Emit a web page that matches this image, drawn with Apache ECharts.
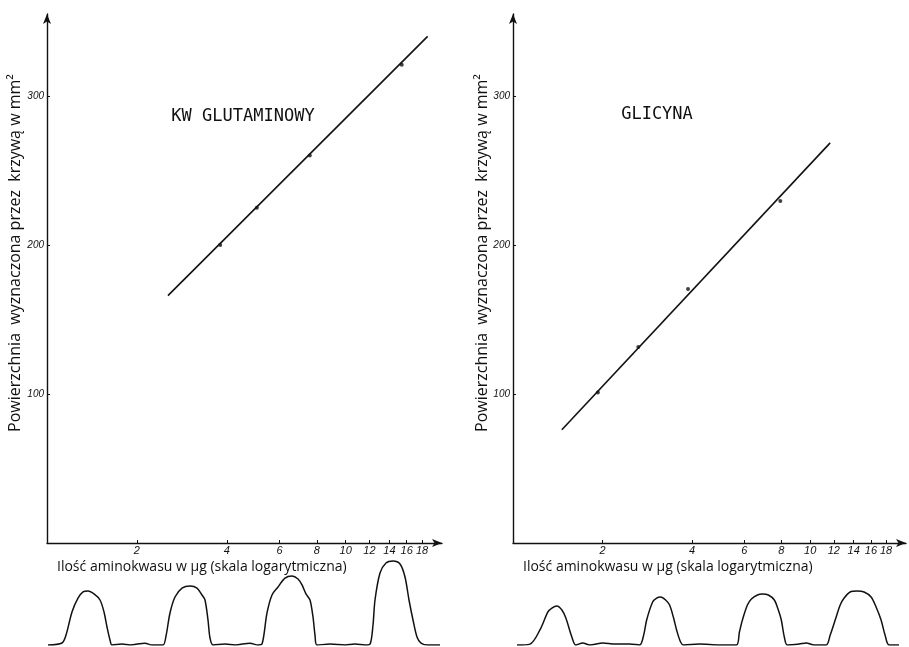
<!DOCTYPE html>
<html>
<head>
<meta charset="utf-8">
<script src="https://cdn.jsdelivr.net/npm/echarts@6/dist/echarts.min.js"></script>
<style>
  html, body { margin: 0; padding: 0; background: #fff; }
  #chart { width: 909px; height: 647px; }
</style>
</head>
<body>
<div id="chart"></div>
<script>
// tick labels
const xTicks = [2, 4, 6, 8, 10, 12, 14, 16, 18]
const yTicks = [100, 200, 300]

// KW GLUTAMINOWY: fitted line ends and measured points (µg, mm²)
const glutLine = [[2.54, 166], [18.8, 340]]
const glutPoints = [[3.8, 200], [5.04, 225], [7.58, 260], [15.4, 321]]

// GLICYNA
const glyLine = [[1.46, 76], [11.67, 268.5]]
const glyPoints = [[1.93, 101], [2.64, 131.5], [3.88, 170.5], [7.93, 229.5]]

// densitometer traces under each plot (position along strip, intensity)
const glutTrace = [
  [0.75, 0], [4.25, 2.2], [5.25, 11], [6.75, 36.7], [8.25, 52], [9.5, 59], [10.75, 60],
  [12.25, 56.7], [13.75, 50], [14.75, 36.7], [15.5, 20], [16.25, 5.6], [16.75, 0],
  [19.25, 1], [21.25, 0], [25, 2], [26.75, 0],
  [29.5, 0], [30.25, 10], [31.25, 35.6], [32.5, 53.3], [34.25, 63.3], [36.25, 65.6],
  [38, 63.3], [39.25, 55.6], [40, 50], [40.75, 27.8], [41.25, 7.8], [42, 0],
  [45, 1], [47.5, 0], [51.25, 2], [53.25, 0],
  [54.25, 1], [55.5, 35.6], [56.75, 55.6], [58.25, 64.4], [60, 74.4], [61.75, 76.7],
  [63.25, 73.3], [64.25, 66.7], [65.25, 56.7], [66.25, 50], [67, 31.1], [67.5, 11], [68, 0],
  [71.25, 1], [75, 0], [77.5, 1], [80, 0],
  [81.25, 1], [82, 22.2], [82.5, 50], [83.75, 80], [85.25, 91.1], [87, 93.3],
  [88.75, 90], [90, 75.6], [91, 50], [92, 27.8], [93, 8.9], [94, 2.2], [95.75, 0], [98.75, 0]
]
const glyTrace = [
  [1.75, 0], [5, 1], [7.5, 16.7], [9.5, 36.7], [10.5, 41.1], [11.75, 43.3], [13, 38.9],
  [14, 30], [15.5, 8.9], [16.5, 0], [18.25, 2.2], [20, 0], [23.25, 2.2], [26.25, 1], [30, 1],
  [32.5, 0], [33.5, 11], [34.25, 27.8], [35.75, 47.8], [36.75, 52.2], [37.75, 53.3],
  [39, 50], [40, 44.4], [41, 30], [41.75, 16.7], [42.75, 3.3], [43.5, 0],
  [47.5, 1], [52.5, 0],
  [56.75, 0], [57.5, 14.4], [58.25, 27.8], [59.5, 44.4], [60.5, 51.1], [62, 55.6],
  [63.25, 56.7], [64.75, 55.6], [66.25, 50], [67.25, 38.9], [68, 27.8], [68.75, 8.9], [69.5, 0],
  [72.5, 1], [74.25, 2.2], [76.25, 0],
  [79.25, 0], [80.25, 11], [81.75, 31.1], [82.75, 44.4], [83.75, 52.2], [85.25, 58.9],
  [87, 60], [88.75, 58.9], [90.5, 53.3], [91.75, 42.2], [93, 27.8], [94, 11], [95, 0], [97.5, 0]
]

const titles = ["KW GLUTAMINOWY", "GLICYNA"]
const xName = "Ilość aminokwasu w µg (skala logarytmiczna)"
const yName = "Powierzchnia  wyznaczona przez  krzywą w mm²"

const ink = "#111"
const chart = echarts.init(document.getElementById("chart"))

const xAxisOf = gridIndex => ({
  type: "log",
  logBase: 10,
  gridIndex,
  min: 1,
  max: 21,
  splitLine: { show: false },
  axisLine: {
    lineStyle: { color: ink, width: 1.4 },
    symbol: ["none", "arrow"],
    symbolSize: [6, 10],
  },
  axisTick: {
    customValues: xTicks,
    inside: true,
    length: 3,
    lineStyle: { color: ink },
  },
  axisLabel: {
    customValues: xTicks,
    color: ink,
    fontStyle: "italic",
    fontSize: 11,
    margin: 2,
  },
  minorTick: { show: false },
})

const yAxisOf = gridIndex => ({
  type: "value",
  gridIndex,
  min: 0,
  max: 355,
  interval: 100,
  splitLine: { show: false },
  axisLine: {
    show: true,
    lineStyle: { color: ink, width: 1.4 },
    symbol: ["none", "arrow"],
    symbolSize: [6, 10],
  },
  axisTick: {
    show: true,
    customValues: yTicks,
    inside: true,
    length: 3,
    lineStyle: { color: ink },
  },
  axisLabel: {
    customValues: yTicks,
    color: ink,
    fontStyle: "italic",
    fontSize: 10,
    margin: 3,
  },
})

const hiddenAxis = (gridIndex, max) => ({
  type: "value",
  gridIndex,
  min: 0,
  max,
  show: false,
})

const textAt = (x, y, text, font, align, rotation) => ({
  type: "text",
  x,
  y,
  rotation: rotation || 0,
  style: {
    text,
    font,
    fill: ink,
    textAlign: align,
    textVerticalAlign: "middle",
    align,
    verticalAlign: "middle",
  },
})

const option = {
  backgroundColor: "#fff",
  animation: false,
  grid: [
    { left: 47, top: 14, width: 395, height: 529 },
    { left: 513, top: 14, width: 393, height: 529 },
    { left: 45, top: 555, width: 400, height: 90 },
    { left: 510, top: 555, width: 400, height: 90 },
  ],
  xAxis: [xAxisOf(0), xAxisOf(1), hiddenAxis(2, 100), hiddenAxis(3, 100)],
  yAxis: [yAxisOf(0), yAxisOf(1), hiddenAxis(2, 100), hiddenAxis(3, 100)],
  series: [
    {
      type: "line",
      xAxisIndex: 0,
      yAxisIndex: 0,
      data: glutLine,
      symbol: "none",
      lineStyle: { color: ink, width: 1.6 },
    },
    {
      type: "scatter",
      xAxisIndex: 0,
      yAxisIndex: 0,
      data: glutPoints,
      symbolSize: 4,
      itemStyle: { color: ink },
    },
    {
      type: "line",
      xAxisIndex: 1,
      yAxisIndex: 1,
      data: glyLine,
      symbol: "none",
      lineStyle: { color: ink, width: 1.6 },
    },
    {
      type: "scatter",
      xAxisIndex: 1,
      yAxisIndex: 1,
      data: glyPoints,
      symbolSize: 4,
      itemStyle: { color: ink },
    },
    {
      type: "line",
      xAxisIndex: 2,
      yAxisIndex: 2,
      data: glutTrace,
      symbol: "none",
      smooth: 0.3,
      lineStyle: { color: ink, width: 1.5 },
    },
    {
      type: "line",
      xAxisIndex: 3,
      yAxisIndex: 3,
      data: glyTrace,
      symbol: "none",
      smooth: 0.3,
      lineStyle: { color: ink, width: 1.5 },
    },
  ],
  graphic: [
    // panel titles
    textAt(243, 117, titles[0], "17px 'DejaVu Sans Mono'", "center"),
    textAt(657, 115, titles[1], "17px 'DejaVu Sans Mono'", "center"),
    // x axis names
    textAt(57, 567, xName, "14px 'Open Sans'", "left"),
    textAt(523, 567, xName, "14px 'Open Sans'", "left"),
    // y axis names
    textAt(15, 253, yName, "16px 'Open Sans'", "center", Math.PI / 2),
    textAt(482, 253, yName, "16px 'Open Sans'", "center", Math.PI / 2),
  ],
}

chart.setOption(option)
window.addEventListener("resize", () => chart.resize())
</script>
</body>
</html>
